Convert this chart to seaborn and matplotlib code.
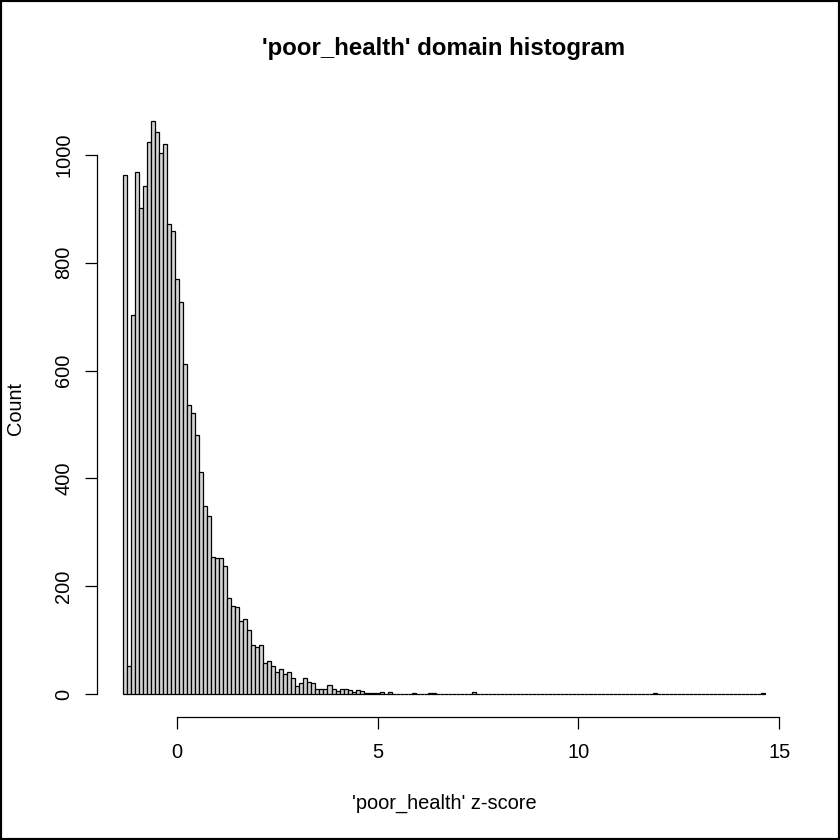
import numpy as np
import pandas as pd
import matplotlib
matplotlib.use("Agg")
import matplotlib.pyplot as plt
import seaborn as sns
from matplotlib.patches import Rectangle

# histogram bins (width 0.1)
bin_start = -1.35
bin_width = 0.1
n_bins = 160

# counts for the first 68 bins
counts_head = [963, 52, 703, 968, 902, 942, 1024, 1063, 1042, 1004,
               1021, 871, 859, 770, 727, 613, 536, 522, 481, 411,
               348, 330, 255, 252, 252, 237, 178, 164, 161, 136,
               140, 119, 92, 88, 92, 57, 62, 53, 41, 47,
               37, 41, 29, 15, 21, 30, 22, 20, 9, 9,
               9, 16, 9, 5, 9, 9, 7, 4, 7, 5,
               2, 2, 2, 2, 3, 1, 4, 1]

# sparse tail: bin index -> count
tail_bins = [69, 71, 72, 76, 77, 78, 80, 83, 85, 87, 93, 97, 100, 102, 105, 107, 110, 112, 132, 159]
tail_counts = [1, 1, 2, 2, 2, 1, 1, 1, 1, 3, 1, 1, 1, 1, 1, 1, 1, 1, 2, 2]

counts = np.zeros(n_bins)
counts[:len(counts_head)] = counts_head
counts[tail_bins] = tail_counts

edges = bin_start + bin_width * np.arange(n_bins + 1)
centers = (edges[:-1] + edges[1:]) / 2
df = pd.DataFrame({'z': centers, 'n': counts})

sns.set_style("white")
plt.rcParams['font.family'] = ['Liberation Sans', 'DejaVu Sans']
plt.rcParams['text.color'] = 'black'
plt.rcParams['xtick.color'] = 'black'
plt.rcParams['ytick.color'] = 'black'

fig = plt.figure(figsize=(8.4, 8.4), dpi=100)
ax = fig.add_axes([0.1155, 0.1464, 0.826, 0.7369])

sns.histplot(data=df, x='z', weights='n', binwidth=bin_width,
             binrange=(edges[0], edges[-1]), ax=ax,
             color='#d3d3d3', edgecolor='black', linewidth=0.9, alpha=1)

ax.set_xlim(-1.99, 15.29)
ax.set_ylim(-42.5, 1105.5)
ax.set_xticks([0, 5, 10, 15])
ax.set_yticks([0, 200, 400, 600, 800, 1000])
ax.set_xlabel("")
ax.set_ylabel("")

for s in ['top', 'right']:
    ax.spines[s].set_visible(False)
ax.spines['left'].set_bounds(0, 1000)
ax.spines['bottom'].set_bounds(0, 15)
for s in ['left', 'bottom']:
    ax.spines[s].set_color('black')
    ax.spines[s].set_linewidth(0.9)

ax.tick_params(axis='both', direction='out', length=8.6, width=0.9,
               color='black', labelcolor='black', labelsize=14.4,
               left=True, bottom=True)
ax.tick_params(axis='x', pad=10)
ax.tick_params(axis='y', pad=8.6, labelrotation=90)
for lab in ax.get_yticklabels():
    lab.set_va('center')

fig.text(444 / 840, 1 - 48 / 840, "'poor_health' domain histogram",
         ha='center', va='center', fontsize=17.3, fontweight='bold')
fig.text(444 / 840, 1 - 803 / 840, "'poor_health' z-score",
         ha='center', va='center', fontsize=14.4)
fig.text(15 / 840, 1 - 408 / 840, "Count", rotation=90,
         ha='center', va='center', fontsize=14.4)

fig.patches.append(Rectangle((0, 0), 1, 1, transform=fig.transFigure,
                             fill=False, edgecolor='black', linewidth=3))

fig.savefig('out.png', dpi=100)
